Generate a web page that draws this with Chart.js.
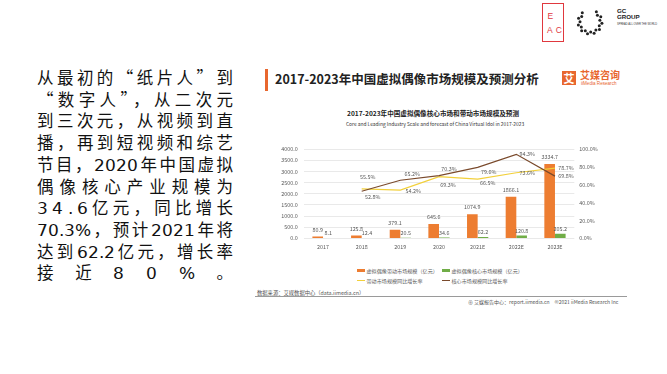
<!DOCTYPE html>
<html>
<head>
<meta charset="utf-8">
<script src="https://cdn.jsdelivr.net/npm/chart.js@4.4.1/dist/chart.umd.min.js"></script>
<style>
  @font-face { font-family: "IntroDigits"; src: local("DejaVu Sans"); unicode-range: U+0025, U+002E, U+0030-0039; }
  body { margin: 0; width: 667px; height: 374px; background: #fff; position: relative; overflow: hidden;
         font-family: "Noto Sans CJK SC", "Noto Sans", sans-serif; }
  .abs { position: absolute; white-space: nowrap; }
  #intro { position: absolute; left: 37px; top: 67px; width: 196px; font-size: 16.5px; line-height: 21.7px; color: #111;
           font-family: "IntroDigits", "Noto Sans CJK SC", sans-serif; }
  #intro div { text-align: justify; text-align-last: justify; white-space: nowrap; }
  #intro div.spread { display: flex; justify-content: space-between; }
  #bar { position: absolute; left: 265px; top: 69px; width: 3px; height: 22px; background: #e8672f; }
  #title { left: 275px; top: 70px; font-size: 12.5px; font-weight: bold; color: #222; line-height: 18px; }
  #sub1 { left: 347px; top: 108px; font-size: 6.6px; font-weight: bold; color: #222; }
  #sub2 { left: 346px; top: 120px; font-size: 4.9px; color: #333; }
  #chartBox { position: absolute; left: 268px; top: 140px; width: 345px; height: 115px; }
  #legend { position: absolute; left: 357px; top: 267px; display: grid; grid-template-columns: 85px auto;
            row-gap: 3px; font-size: 5.1px; color: #595959; line-height: 7px; }
  #legend .item { display: flex; align-items: center; }
  #legend .sw { display: inline-block; width: 8px; margin-right: 1.5px; }
  #legend .box { height: 3.3px; }
  #legend .line { height: 1.3px; }
  #source { left: 257px; top: 289px; font-size: 5.3px; color: #555; }
  #rule { position: absolute; left: 255px; top: 296px; width: 372px; height: 1px; background: #9a9a9a; }
  #foot { left: 468px; top: 298px; font-size: 5px; color: #555; }
  #eac { position: absolute; left: 542px; top: 3px; width: 20px; height: 37px; border: 1.5px solid #e0383e; color: #e0383e;
         font-size: 8.5px; line-height: 1; font-family: "Liberation Sans", sans-serif; }
  #eac .e { position: absolute; left: 4.5px; top: 8px; }
  #eac .ac { position: absolute; left: 4px; top: 22px; letter-spacing: 3px; }
  #gc1 { left: 617px; top: 8px; font-size: 6.2px; font-weight: bold; color: #222; line-height: 6.4px; font-family: "Liberation Sans", sans-serif; }
  #gc2 { left: 617px; top: 23px; font-size: 2.6px; color: #333; font-family: "Liberation Sans", sans-serif; }
  #iconAi { position: absolute; left: 562px; top: 71px; width: 14px; height: 14px; background: #e8672f; color: #fff;
            font-size: 11px; font-weight: bold; line-height: 14px; text-align: center; }
  #aimei { left: 580px; top: 69px; font-size: 10px; font-weight: bold; color: #e8672f; line-height: 12px; }
  #aimeiEn { left: 581px; top: 81px; font-size: 4.6px; color: #e8672f; font-family: "Liberation Sans", sans-serif; }
</style>
</head>
<body>
<div id="intro">
  <div>从最初的“纸片人”到</div>
  <div>“数字人”，从二次元</div>
  <div>到三次元，从视频到直</div>
  <div>播，再到短视频和综艺</div>
  <div>节目，2020年中国虚拟</div>
  <div>偶像核心产业规模为</div>
  <div class="spread">34.6亿元，同比增长</div>
  <div>70.3%，预计2021年将</div>
  <div>达到62.2亿元，增长率</div>
  <div class="spread">接近80%。</div>
</div>

<div id="bar"></div>
<div id="title" class="abs">2017-2023年中国虚拟偶像市场规模及预测分析</div>
<div id="iconAi">艾</div>
<div id="aimei" class="abs">艾媒咨询</div>
<div id="aimeiEn" class="abs">iiMedia Research</div>
<div id="sub1" class="abs">2017-2023年中国虚拟偶像核心市场和带动市场规模及预测</div>
<div id="sub2" class="abs">Core and Leading Industry Scale and forecast of China Virtual Idol in 2017-2023</div>

<div id="chartBox"><canvas id="chart"></canvas></div>
<div id="legend"></div>

<div id="source" class="abs">数据来源：艾媒数据中心（data.iimedia.cn）</div>
<div id="rule"></div>
<div id="foot" class="abs">⊕ 艾媒报告中心：report.iimedia.cn　©2021 iiMedia Research Inc</div>

<div id="eac"><span class="e">E</span><span class="ac">AC</span></div>
<svg id="ring" style="position:absolute;left:576px;top:5px" width="30" height="34"></svg>
<div id="gc1" class="abs">GC<br>GROUP</div>
<div id="gc2" class="abs">SPREAD ALL OVER THE WORLD</div>

<script>
'use strict';

// Categories and values
var years = ['2017', '2018', '2019', '2020', '2021E', '2022E', '2023E'];
var leadingScale = [80.9, 125.8, 379.1, 645.6, 1074.9, 1866.1, 3334.7];   // 虚拟偶像带动市场规模（亿元）
var coreScale = [8.1, 12.4, 20.5, 34.6, 62.2, 120.8, 205.2];              // 虚拟偶像核心市场规模（亿元）
var leadingGrowth = [null, 55.5, 54.2, 69.3, 66.5, 73.6, 78.7];           // 带动市场规模同比增长率 (%)
var coreGrowth = [null, 52.8, 65.2, 70.3, 79.6, 94.3, 69.8];              // 核心市场规模同比增长率 (%)

var FONT = '"Noto Sans CJK SC", "Noto Sans", sans-serif';
var GREY = '#595959';

// Where each growth label sits relative to its point (x, y in px)
var growthNudge = {
  2: [[0, 0], [6, -12], [13, 1], [9, 8], [10, 4], [11, 0], [11, 0]],
  3: [[0, 0], [11, 6], [12, -6], [10, -7], [11, 5], [11, 0], [11, 0]]
};

// Small plugin for value labels (no datalabels plugin available offline)
var valueLabels = {
  id: 'valueLabels',
  afterDatasetsDraw: function (chart) {
    var ctx = chart.ctx;
    ctx.save();
    ctx.font = '5.4px ' + FONT;
    ctx.fillStyle = GREY;
    ctx.textAlign = 'center';
    ctx.textBaseline = 'middle';
    chart.data.datasets.forEach(function (ds, di) {
      var meta = chart.getDatasetMeta(di);
      meta.data.forEach(function (el, i) {
        var v = ds.data[i];
        if (v === null) return;
        if (ds.type === 'bar') {
          ctx.fillText(v.toFixed(1), el.x, el.y - (di === 0 ? 7 : 5));
        } else {
          var n = growthNudge[di][i];
          ctx.fillText(v.toFixed(1) + '%', el.x + n[0], el.y + n[1]);
        }
      });
    });
    ctx.restore();
  }
};

var tickFont = { family: FONT, size: 5.4 };

var chart = new Chart(document.getElementById('chart'), {
  data: {
    labels: years,
    datasets: [
      { type: 'bar', label: '虚拟偶像带动市场规模（亿元）', data: leadingScale, backgroundColor: '#ed7d31',
        yAxisID: 'y', order: 2, categoryPercentage: 0.55, barPercentage: 1 },
      { type: 'bar', label: '虚拟偶像核心市场规模（亿元）', data: coreScale, backgroundColor: '#70ad47',
        yAxisID: 'y', order: 2, categoryPercentage: 0.55, barPercentage: 1 },
      { type: 'line', label: '带动市场规模同比增长率', data: leadingGrowth, borderColor: '#f2d03b',
        backgroundColor: '#f2d03b', borderWidth: 1.2, pointRadius: 0, yAxisID: 'y1', order: 1 },
      { type: 'line', label: '核心市场规模同比增长率', data: coreGrowth, borderColor: '#7a4a2c',
        backgroundColor: '#7a4a2c', borderWidth: 1.2, pointRadius: 0, yAxisID: 'y1', order: 0 }
    ]
  },
  options: {
    responsive: true,
    maintainAspectRatio: false,
    animation: false,
    layout: { padding: { top: 9, left: 0, right: 0, bottom: 0 } },
    plugins: { legend: { display: false }, tooltip: { enabled: false } },
    scales: {
      x: {
        grid: { display: false, drawTicks: false },
        border: { display: false },
        ticks: { font: tickFont, color: GREY, padding: 5 },
        afterFit: function (s) { s.height = 16.7; }
      },
      y: {
        position: 'left', min: 0, max: 4000,
        ticks: { stepSize: 500, font: tickFont, color: GREY, padding: 6,
                 callback: function (v) { return v.toFixed(1); } },
        grid: { color: '#e3e3e3', lineWidth: 0.8, drawTicks: false },
        border: { display: false },
        afterFit: function (s) { s.width = 35.7; }
      },
      y1: {
        position: 'right', min: 0, max: 100,
        ticks: { stepSize: 20, font: tickFont, color: GREY, padding: 5,
                 callback: function (v) { return v.toFixed(1) + '%'; } },
        grid: { display: false, drawTicks: false },
        border: { display: false },
        afterFit: function (s) { s.width = 38.7; }
      }
    }
  },
  plugins: [valueLabels]
});

// HTML legend built from the chart's datasets
var legendEl = document.getElementById('legend');
chart.data.datasets.forEach(function (ds) {
  var item = document.createElement('div');
  item.className = 'item';
  var sw = document.createElement('span');
  sw.className = 'sw ' + (ds.type === 'line' ? 'line' : 'box');
  sw.style.background = ds.backgroundColor;
  item.appendChild(sw);
  item.appendChild(document.createTextNode(ds.label));
  legendEl.appendChild(item);
});

// Lines spread character by character, as in the slide
document.querySelectorAll('#intro .spread').forEach(function (line) {
  var chars = Array.from(line.textContent);
  line.textContent = '';
  chars.forEach(function (ch) {
    var s = document.createElement('span');
    s.textContent = ch;
    line.appendChild(s);
  });
});

// GC ring of dots
var ring = document.getElementById('ring');
for (var a = 0; a < 360; a += 16) {
  if (a > 330 || a < 20) continue;
  var r = a % 32 === 0 ? 12 : 10;
  var rad = (a - 90) * Math.PI / 180;
  var c = document.createElementNS('http://www.w3.org/2000/svg', 'circle');
  c.setAttribute('cx', 14 + r * Math.cos(rad));
  c.setAttribute('cy', 17 + r * Math.sin(rad));
  c.setAttribute('r', 1.5);
  c.setAttribute('fill', '#222');
  ring.appendChild(c);
}
</script>
</body>
</html>
